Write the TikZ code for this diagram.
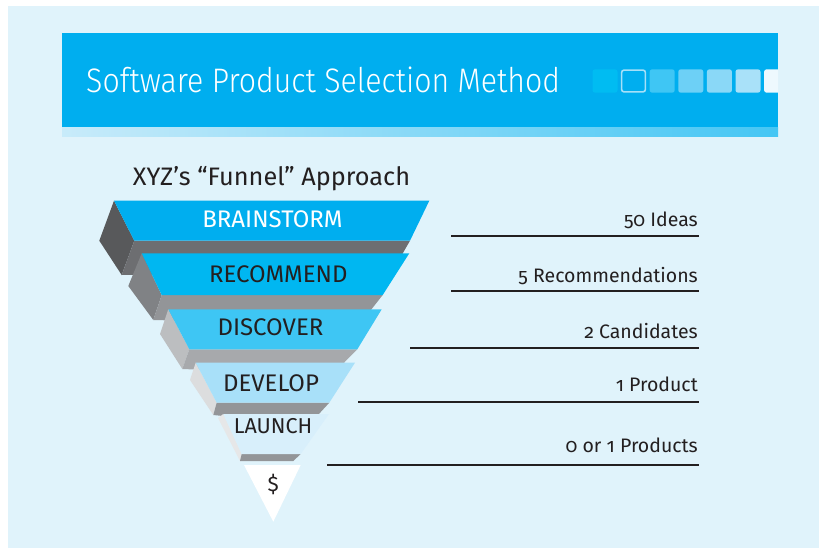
\documentclass[tikz,border=0pt]{standalone}
\usepackage{fontspec}
\setmainfont{Fira Sans}[Numbers=OldStyle]
\newfontfamily\titlefont{Fira Sans Light}[FakeStretch=0.89]
\usetikzlibrary{calc}

\definecolor{panel}{HTML}{E0F3FB}
\definecolor{barblue}{HTML}{00AEEF}
\definecolor{stripL}{HTML}{C8EBFA}
\definecolor{stripR}{HTML}{45C6F4}
\definecolor{inkdark}{HTML}{231F20}
\definecolor{sqA}{HTML}{00BCF2}
\definecolor{sqRing}{HTML}{A6E0F8}
\definecolor{sqC}{HTML}{3FC6F4}
\definecolor{sqD}{HTML}{6DD0F6}
\definecolor{sqE}{HTML}{8AD8F7}
\definecolor{sqF}{HTML}{A9E1F9}
\definecolor{sqG}{HTML}{EEF9FE}
% funnel tiers: front, side, underside
\definecolor{frontA}{HTML}{00AEEF}
\definecolor{sideA}{HTML}{58595B}
\definecolor{bandA}{HTML}{6D6E71}
\definecolor{frontB}{HTML}{00B7F1}
\definecolor{sideB}{HTML}{808285}
\definecolor{bandB}{HTML}{939598}
\definecolor{frontC}{HTML}{3EC6F4}
\definecolor{sideC}{HTML}{BCBEC0}
\definecolor{bandC}{HTML}{A7A9AC}
\definecolor{frontD}{HTML}{A8E0F9}
\definecolor{sideD}{HTML}{DCDDDE}
\definecolor{bandD}{HTML}{939598}
\definecolor{frontE}{HTML}{D8EFFB}
\definecolor{sideE}{HTML}{E6E7E8}
\definecolor{bandE}{HTML}{939598}

\tikzset{
  sqbox/.style={rounded corners=2.5pt},
  stagetext/.style={anchor=base, inner sep=0pt, font=\fontsize{24}{24}\selectfont, text=inkdark},
  counttext/.style={anchor=base east, inner sep=0pt, font=\fontsize{19.5}{19.5}\selectfont, text=inkdark},
  rule/.style={draw=inkdark, line width=2pt},
}

\begin{document}
\begin{tikzpicture}[x=1pt, y=-1pt]
\useasboundingbox (0,0) rectangle (819,548);
% background panel
\fill[white] (0,0) rectangle (819,548);
\fill[panel] (8,6) rectangle (819,548);

% header bar
\fill[barblue] (62,33) rectangle (778,128);
\shade[left color=stripL, right color=stripR] (62,128) rectangle (778,136.5);
\node[anchor=base west, inner sep=0pt, text=white, font=\titlefont\fontsize{34}{34}\selectfont] (title) at (86,92.7) {Software Product Selection Method};

% progress squares
\begin{scope}
  \clip (62,33) rectangle (778,128);
  \fill[sqA, sqbox] (592.5,69.3) rectangle ++(25,23.4);
  \draw[sqRing, line width=1.6pt, sqbox, fill=barblue] (621.6,70.1) rectangle ++(23.8,21.8);
  \fill[sqC, sqbox] (649.7,69.3) rectangle ++(25,23.4);
  \fill[sqD, sqbox] (678.3,69.3) rectangle ++(25,23.4);
  \fill[sqE, sqbox] (706.9,69.3) rectangle ++(25,23.4);
  \fill[sqF, sqbox] (735.5,69.3) rectangle ++(25,23.4);
  \fill[sqG, sqbox] (764.1,69.3) rectangle ++(25,23.4);
\end{scope}

% funnel heading
\node[anchor=base, inner sep=0pt, text=inkdark, font=\fontsize{25.3}{25.3}\selectfont] (heading) at (271.5,186) {XYZ’s “Funnel” Approach};

% tier 1
\fill[sideA] (114,200.7) -- (99.3,240.7) -- (121.7,275) -- (134.3,240.7) -- cycle;
\fill[bandA] (134.3,240.7) -- (410,240.7) -- (392,272) -- (121.7,275) -- cycle;
\fill[frontA] (114,200.7) -- (429.3,200.7) -- (410,240.7) -- (134.3,240.7) -- cycle;
% tier 2
\fill[sideB] (141.7,253.3) -- (128.3,286) -- (153.3,320) -- (161.7,295) -- cycle;
\fill[bandB] (161.7,295) -- (382.7,295) -- (371.7,309) -- (360,325) -- (153.3,320) -- cycle;
\fill[frontB] (141.7,253.3) -- (409.3,253.3) -- (382.7,295) -- (161.7,295) -- cycle;
% tier 3
\fill[sideC] (168.3,309.3) -- (160,334) -- (182.3,369) -- (189.3,349.3) -- cycle;
\fill[bandC] (189.3,349.3) -- (357.3,349.3) -- (345,361.7) -- (335,375) -- (182.3,369) -- cycle;
\fill[frontC] (168.3,309.3) -- (381.7,309.3) -- (357.3,349.3) -- (189.3,349.3) -- cycle;
% tier 4
\fill[sideD] (195.7,362.7) -- (190,380) -- (213.3,415) -- (216.7,402.7) -- cycle;
\fill[bandD] (216.7,402.7) -- (329.3,402.7) -- (318,415) -- (310,425) -- (213.3,415) -- cycle;
\fill[frontD] (195.7,362.7) -- (355,362.7) -- (329.3,402.7) -- (216.7,402.7) -- cycle;
% tier 5
\fill[sideE] (223.3,414) -- (218,418) -- (240,461) -- (241.7,454) -- cycle;
\fill[bandE] (241.7,454) -- (300.7,454) -- (293.3,461) -- (240,461) -- cycle;
\fill[frontE] (223.3,414) -- (329,414) -- (300.7,454) -- (241.7,454) -- cycle;
% tip
\fill[white] (244,465) -- (300.7,465) -- (273.3,521.7) -- cycle;

% stage names
\node[stagetext, text=white] (s1) at (272.5,227.7) {BRAINSTORM};
\node[stagetext] (s2) at (278.3,282.3) {RECOMMEND};
\node[stagetext] (s3) at (270.5,335.7) {DISCOVER};
\node[stagetext] (s4) at (271,391) {DEVELOP};
\node[stagetext, font=\fontsize{21.5}{21.5}\selectfont] (s5) at (273,433.3) {LAUNCH};
\node[stagetext, font=\fontsize{21}{21}\selectfont] (s6) at (273.3,491) {\$};

% counts with rules
\node[counttext] (c1) at (698,226.7) {50 Ideas};
\node[counttext] (c2) at (698,282.3) {5 Recommendations};
\node[counttext] (c3) at (698,338.3) {2 Candidates};
\node[counttext] (c4) at (698,391.7) {1 Product};
\node[counttext] (c5) at (698,452.3) {0 or 1 Products};

\coordinate (r1a) at (451,235.7);   \coordinate (r1b) at (699,235.7);
\coordinate (r2a) at (451,291);     \coordinate (r2b) at (699,291);
\coordinate (r3a) at (410,348);     \coordinate (r3b) at (699,348);
\coordinate (r4a) at (358.3,401.7); \coordinate (r4b) at (699,401.7);
\coordinate (r5a) at (327.3,465);   \coordinate (r5b) at (699,465);
\draw[rule] (r1a) -- (r1b);
\draw[rule] (r2a) -- (r2b);
\draw[rule] (r3a) -- (r3b);
\draw[rule] (r4a) -- (r4b);
\draw[rule] (r5a) -- (r5b);
\end{tikzpicture}
\end{document}
